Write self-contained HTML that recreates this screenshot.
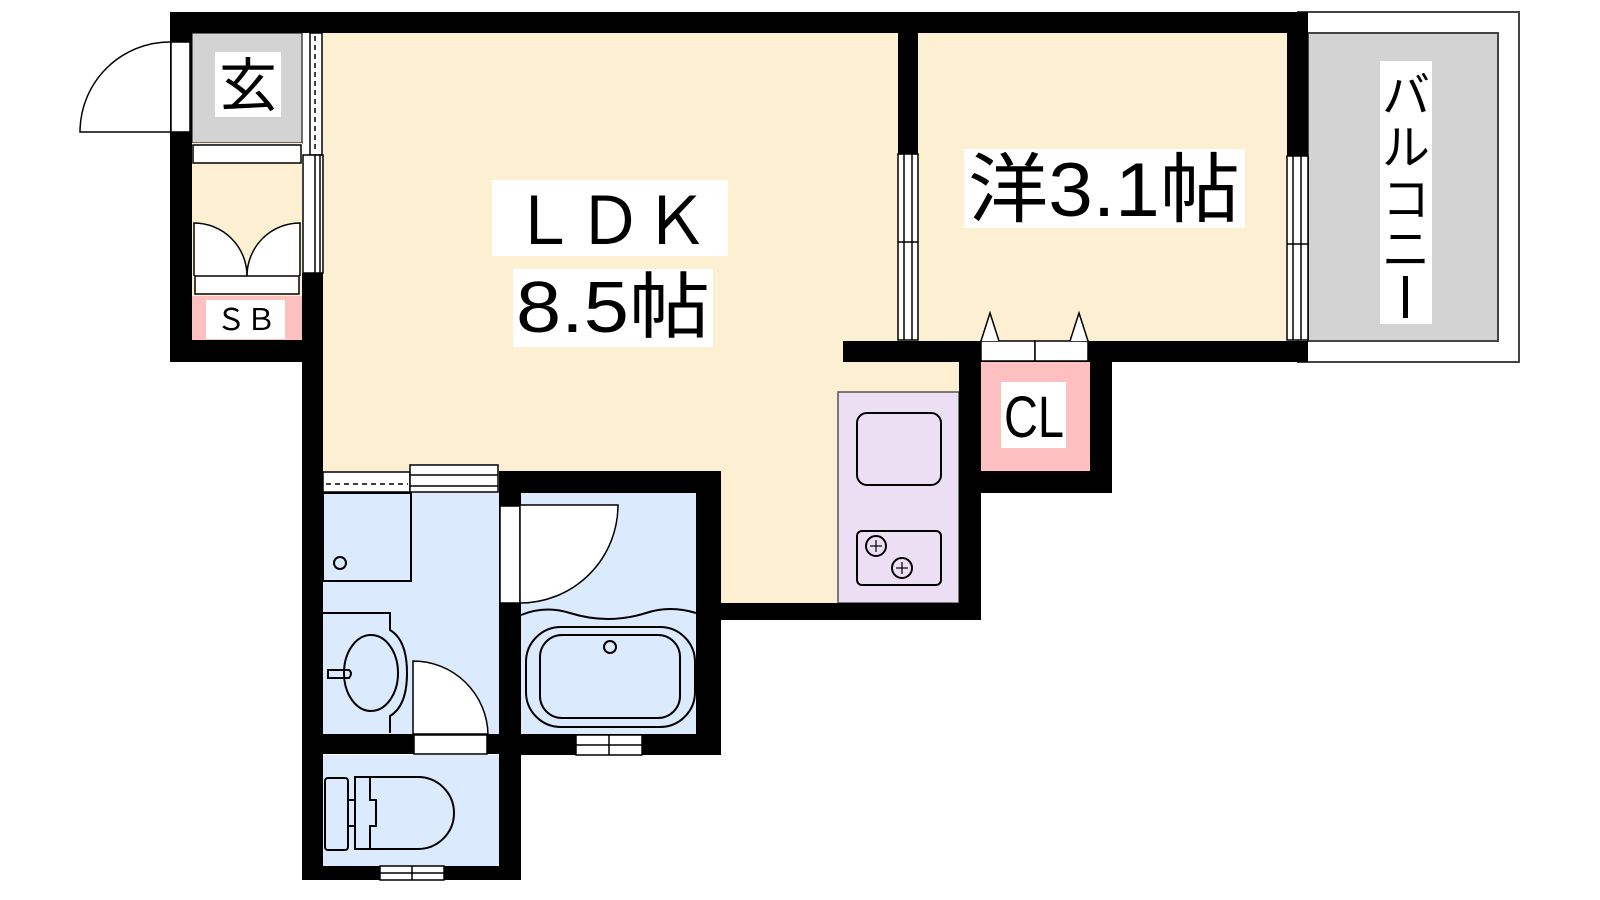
<!DOCTYPE html>
<html><head><meta charset="utf-8"><style>
html,body{margin:0;padding:0;background:#fff;width:1600px;height:900px;overflow:hidden}
svg{display:block}
text{font-family:"Liberation Sans","Noto Sans CJK JP",sans-serif;fill:#000}
</style></head><body>
<svg width="1600" height="900" viewBox="0 0 1600 900" xmlns="http://www.w3.org/2000/svg">
<!-- balcony -->
<rect x="1298" y="12" width="221" height="350" fill="#fff" stroke="#444" stroke-width="2"/>
<rect x="1308" y="33" width="190" height="308" fill="#d3d3d3" stroke="#444" stroke-width="2"/>
<!-- floors -->
<rect x="323" y="33" width="636" height="570" fill="#fdf0d2"/>
<rect x="918" y="33" width="369" height="308" fill="#fdf0d2"/>
<rect x="192" y="33" width="110" height="110" fill="#d3d3d3" stroke="#444" stroke-width="1.5"/>
<rect x="192" y="143" width="110" height="153" fill="#fdf0d2"/>
<rect x="192" y="296" width="110" height="44" fill="#fdbfbf"/>
<rect x="981" y="362" width="109" height="109" fill="#fdbfbf"/>
<rect x="838" y="392" width="121" height="211" fill="#ecdff3" stroke="#555" stroke-width="1.5"/>
<rect x="323" y="493" width="176" height="241" fill="#dbeafc"/>
<rect x="521" y="493" width="175" height="241" fill="#dbeafc"/>
<rect x="323" y="755" width="176" height="111" fill="#dbeafc"/>
<!-- walls -->
<g fill="#000">
<rect x="170" y="12" width="1138" height="21"/>
<rect x="170" y="12" width="22" height="350"/>
<rect x="170" y="340" width="153" height="22"/>
<rect x="302" y="273" width="21" height="607"/>
<rect x="898" y="33" width="20" height="121"/>
<rect x="843" y="341" width="465" height="21"/>
<rect x="1287" y="12" width="21" height="144"/>
<rect x="959" y="341" width="22" height="279"/>
<rect x="1090" y="341" width="22" height="152"/>
<rect x="959" y="471" width="153" height="22"/>
<rect x="700" y="603" width="281" height="17"/>
<rect x="499" y="471" width="222" height="22"/>
<rect x="696" y="471" width="25" height="284"/>
<rect x="499" y="471" width="22" height="409"/>
<rect x="302" y="734" width="219" height="20"/>
<rect x="499" y="734" width="222" height="21"/>
<rect x="302" y="866" width="219" height="14"/>
</g>
<g fill="#fff" stroke="#000" stroke-width="1.5">
<!-- entrance door -->
<rect x="171" y="42" width="19" height="90"/>
<path d="M170 42 A90 90 0 0 0 80 132 L170 132" fill="none"/>
<!-- step strip -->
<rect x="193" y="145" width="108" height="18"/>
<!-- shoe cabinet doors -->
<path d="M194 276 L194 223 A53 53 0 0 1 247 276" />
<path d="M300 276 L300 223 A53 53 0 0 0 247 276" />
<rect x="195" y="276" width="104" height="18"/>
<!-- sliding between entrance and LDK -->
<rect x="310" y="33" width="12" height="122"/>
<rect x="303" y="155" width="20" height="118"/>
<line x1="315" y1="155" x2="315" y2="273"/>
<line x1="320" y1="155" x2="320" y2="273"/>
<!-- LDK partition window -->
<rect x="898" y="154" width="20" height="186"/>
<line x1="904" y1="154" x2="904" y2="340"/><line x1="912" y1="154" x2="912" y2="340"/>
<line x1="898" y1="242" x2="918" y2="242"/>
<!-- right window -->
<rect x="1287" y="156" width="21" height="184"/>
<line x1="1293" y1="156" x2="1293" y2="340"/><line x1="1301" y1="156" x2="1301" y2="340"/>
<line x1="1287" y1="244" x2="1308" y2="244"/>
<!-- CL doors -->
<rect x="981" y="341" width="54" height="20"/>
<rect x="1035" y="341" width="53" height="20"/>
<path d="M981 341 L990 313 L999 341"/>
<path d="M1070 341 L1079 313 L1088 341"/>
<!-- dressing sliding -->
<rect x="323" y="472" width="87" height="20"/>
<rect x="410" y="465" width="88" height="27"/>
<line x1="410" y1="475" x2="498" y2="475"/><line x1="410" y1="486" x2="498" y2="486"/>
<!-- bath door -->
<rect x="500" y="506" width="20" height="97"/>
<path d="M520 603 L520 505 L618 505 A98 98 0 0 1 520 603"/>
<!-- dressing/toilet door -->
<path d="M413 734 L413 661 A75 75 0 0 1 488 734 Z"/>
<rect x="414" y="735" width="73" height="19"/>
<!-- windows -->
<rect x="576" y="735" width="66" height="20"/>
<line x1="576" y1="745" x2="642" y2="745"/><line x1="609" y1="735" x2="609" y2="755"/>
<rect x="380" y="866" width="64" height="14"/>
<line x1="380" y1="873" x2="444" y2="873"/><line x1="412" y1="866" x2="412" y2="880"/>
</g>
<line x1="315" y1="36" x2="315" y2="153" stroke="#000" stroke-width="1.5" stroke-dasharray="5,4"/>
<line x1="326" y1="484" x2="408" y2="484" stroke="#000" stroke-width="1.5" stroke-dasharray="5,4"/>
<g fill="none" stroke="#000" stroke-width="2">
<!-- washer -->
<rect x="323" y="493" width="88" height="88"/>
<circle cx="340" cy="563" r="6"/>
<!-- basin -->
<path d="M323 613 L390 613 L390 630 Q407 640 407 673 Q407 706 390 716 L390 733"/>
<ellipse cx="371" cy="673" rx="27" ry="38"/>
<path d="M328 670 L349 670 Q353 673 349 678 L328 678 Z"/>
<!-- bath -->
<path d="M521 615 Q545 605 570 613 Q608 625 646 613 Q670 605 696 613"/>
<rect x="526" y="627" width="169" height="100" rx="35"/>
<rect x="540" y="635" width="140" height="83" rx="22"/>
<circle cx="610" cy="647" r="6"/>
<!-- kitchen -->
<rect x="857" y="413" width="84" height="72" rx="10"/>
<rect x="857" y="531" width="84" height="54" rx="5"/>
<circle cx="876" cy="546" r="10"/><circle cx="902" cy="568" r="10"/>
<!-- toilet -->
<rect x="325" y="778" width="23" height="72" rx="3"/>
<line x1="348" y1="800" x2="355" y2="800"/><line x1="348" y1="826" x2="355" y2="826"/>
<path d="M355 777 L418 777 A36 36 0 0 1 418 849 L355 849 Z"/>
<path d="M370 777 L370 800 L376 800 L376 826 L370 826 L370 849"/>
</g>
<g stroke="#000" stroke-width="1.2">
<line x1="870" y1="546" x2="882" y2="546"/><line x1="876" y1="540" x2="876" y2="552"/>
<line x1="896" y1="568" x2="908" y2="568"/><line x1="902" y1="562" x2="902" y2="574"/>
</g>
<!-- labels -->
<rect x="215" y="52" width="66" height="65" fill="#fff"/>
<text x="248" y="106" font-size="58" text-anchor="middle">玄</text>
<rect x="206" y="300" width="79" height="39" fill="#fff"/>
<text x="246" y="330" font-size="30" text-anchor="middle">ＳＢ</text>
<rect x="492" y="180" width="236" height="76" fill="#fff"/>
<text x="610" y="244" font-size="66" text-anchor="middle">ＬＤＫ</text>
<rect x="513" y="269" width="200" height="78" fill="#fff"/>
<text x="516" y="332" font-size="72" textLength="194" lengthAdjust="spacingAndGlyphs">8.5帖</text>
<rect x="964" y="149" width="281" height="79" fill="#fff"/>
<text x="968" y="216" font-size="76" textLength="272" lengthAdjust="spacingAndGlyphs">洋3.1帖</text>
<rect x="1001" y="382" width="65" height="66" fill="#fff"/>
<text x="1004" y="437" font-size="58" textLength="60" lengthAdjust="spacingAndGlyphs">CL</text>
<rect x="1380" y="61" width="52" height="263" fill="#fff"/>
<text x="1406" y="112" font-size="48" text-anchor="middle">バ</text>
<text x="1406" y="164" font-size="48" text-anchor="middle">ル</text>
<text x="1406" y="216" font-size="48" text-anchor="middle">コ</text>
<text x="1406" y="266" font-size="48" text-anchor="middle">ニ</text>
<rect x="1403" y="276" width="5" height="42" fill="#000"/>
</svg>
</body></html>
